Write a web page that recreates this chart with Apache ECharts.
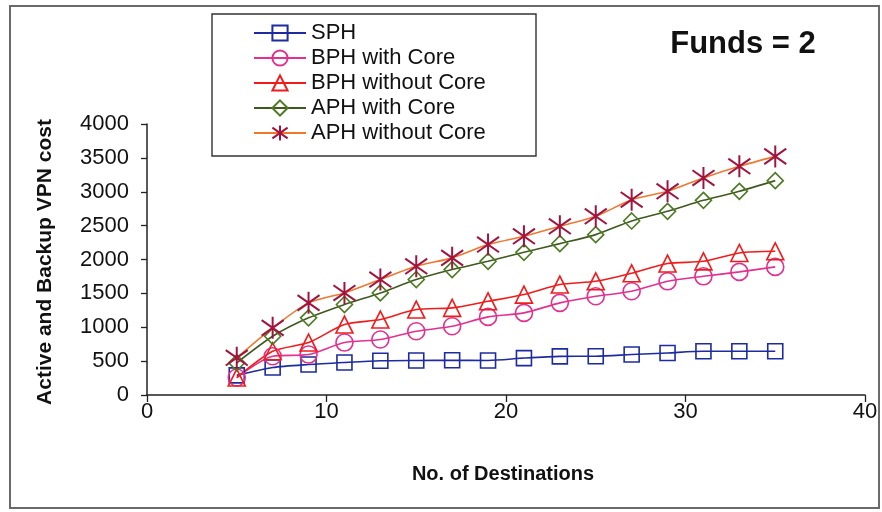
<!DOCTYPE html>
<html>
<head>
<meta charset="utf-8">
<script src="https://cdn.jsdelivr.net/npm/echarts@6/dist/echarts.min.js"></script>
<style>
  html, body { margin: 0; padding: 0; background: #fff; }
  #chart { width: 882px; height: 512px; }
</style>
</head>
<body>
<div id="chart"></div>
<script>
// Number of destinations (x values)
const destinations = [5, 7, 9, 11, 13, 15, 17, 19, 21, 23, 25, 27, 29, 31, 33, 35];

// Active and backup VPN cost per heuristic
const sph            = [290, 405, 450, 480, 505, 510, 512, 510, 545, 570, 572, 597, 620, 645, 645, 645];
const bphWithCore    = [258, 572, 597, 774, 819, 941, 1015, 1153, 1212, 1360, 1457, 1531, 1678, 1752, 1817, 1891];
const bphWithoutCore = [258, 646, 774, 1040, 1114, 1261, 1286, 1383, 1482, 1630, 1678, 1796, 1940, 1973, 2097, 2121];
const aphWithCore    = [475, 867, 1139, 1335, 1507, 1704, 1851, 1973, 2106, 2234, 2367, 2569, 2711, 2873, 3006, 3164];
const aphWithoutCore = [549, 991, 1360, 1507, 1704, 1900, 2024, 2220, 2342, 2490, 2637, 2883, 3006, 3204, 3375, 3522];

const seriesNames = ['SPH', 'BPH with Core', 'BPH without Core', 'APH with Core', 'APH without Core'];

// Axis ticks
const xTicks = { min: 0, max: 40, interval: 10 };
const yTicks = { min: 0, max: 4000, interval: 500 };

const FONT = '"Liberation Sans", Arial, Helvetica, sans-serif';

function pairs(values) {
  return destinations.map((d, i) => [d, values[i]]);
}

// six-armed asterisk marker outline (vertical stroke + two diagonals)
const asteriskPath = 'path://M0,-10 L0,10 M-7.5,-7 L7.5,7 M-7.5,7 L7.5,-7';

function hollow(name, values, symbol, size, lineColor, markColor, extra) {
  return Object.assign({
    name: name,
    type: 'line',
    data: pairs(values),
    smooth: 0.25,
    symbol: symbol,
    symbolSize: size,
    showAllSymbol: true,
    lineStyle: { color: lineColor, width: 1.6 },
    itemStyle: { color: 'rgba(255,255,255,0)', borderColor: markColor, borderWidth: 1.6 },
    emphasis: { disabled: true },
    animation: false
  }, extra || {});
}

const chart = echarts.init(document.getElementById('chart'), null, { renderer: 'canvas' });

chart.setOption({
  backgroundColor: '#ffffff',
  animation: false,
  textStyle: { fontFamily: FONT },
  grid: { left: 147, right: 17, top: 124, bottom: 117, containLabel: false },
  xAxis: {
    type: 'value',
    min: xTicks.min, max: xTicks.max, interval: xTicks.interval,
    axisLine: { show: true, onZero: false, lineStyle: { color: '#222', width: 1.5 } },
    axisTick: { show: true, inside: false, length: 7, lineStyle: { color: '#222', width: 1.3 } },
    axisLabel: { color: '#111', fontSize: 22, fontFamily: FONT, margin: 6, formatter: v => String(v) },
    splitLine: { show: false }
  },
  yAxis: {
    type: 'value',
    min: yTicks.min, max: yTicks.max, interval: yTicks.interval,
    axisLine: { show: true, onZero: false, lineStyle: { color: '#222', width: 1.5 } },
    axisTick: { show: true, inside: false, length: 6, lineStyle: { color: '#222', width: 1.3 } },
    axisLabel: { color: '#111', fontSize: 22, fontFamily: FONT, margin: 18, formatter: v => String(v) },
    splitLine: { show: false }
  },
  legend: {
    orient: 'vertical',
    left: 253,
    top: 22,
    padding: 0,
    itemWidth: 52,
    itemHeight: 19,
    itemGap: 3,
    selectedMode: false,
    textStyle: { fontSize: 22, lineHeight: 22, color: '#111', fontFamily: FONT },
    data: seriesNames
  },
  graphic: [
    // outer frame
    { type: 'rect', z: -10, silent: true,
      shape: { x: 10, y: 6, width: 869, height: 502 },
      style: { fill: '#fff', stroke: '#6a6a6a', lineWidth: 2 } },
    // legend frame
    { type: 'rect', z: 1, silent: true,
      shape: { x: 212, y: 14, width: 324, height: 142 },
      style: { fill: '#fff', stroke: '#333', lineWidth: 1.4 } },
    { type: 'text', z: 5, silent: true, x: 743, y: 44,
      style: { text: 'Funds = 2', font: 'bold 31px ' + FONT, fill: '#111', align: 'center', verticalAlign: 'middle' } },
    { type: 'text', z: 5, silent: true, x: 45, y: 262, rotation: Math.PI / 2,
      style: { text: 'Active and Backup VPN cost', font: 'bold 21px ' + FONT, fill: '#111', align: 'center', verticalAlign: 'middle' } },
    { type: 'text', z: 5, silent: true, x: 503, y: 474,
      style: { text: 'No. of Destinations', font: 'bold 20px ' + FONT, fill: '#111', align: 'center', verticalAlign: 'middle' } }
  ],
  series: [
    hollow(seriesNames[0], sph, 'rect', 15, '#1c2ba0', '#1c2ba0'),
    hollow(seriesNames[1], bphWithCore, 'circle', 17, '#e3308e', '#e3308e'),
    hollow(seriesNames[2], bphWithoutCore, 'triangle', 17, '#f01c1c', '#f01c1c'),
    hollow(seriesNames[3], aphWithCore, 'diamond', 16, '#3e5a1e', '#4c7a22'),
    hollow(seriesNames[4], aphWithoutCore, asteriskPath, 22, '#f0782e', '#a2143e',
      { itemStyle: { color: 'rgba(255,255,255,0)', borderColor: '#a2143e', borderWidth: 2 } })
  ]
});
</script>
</body>
</html>
